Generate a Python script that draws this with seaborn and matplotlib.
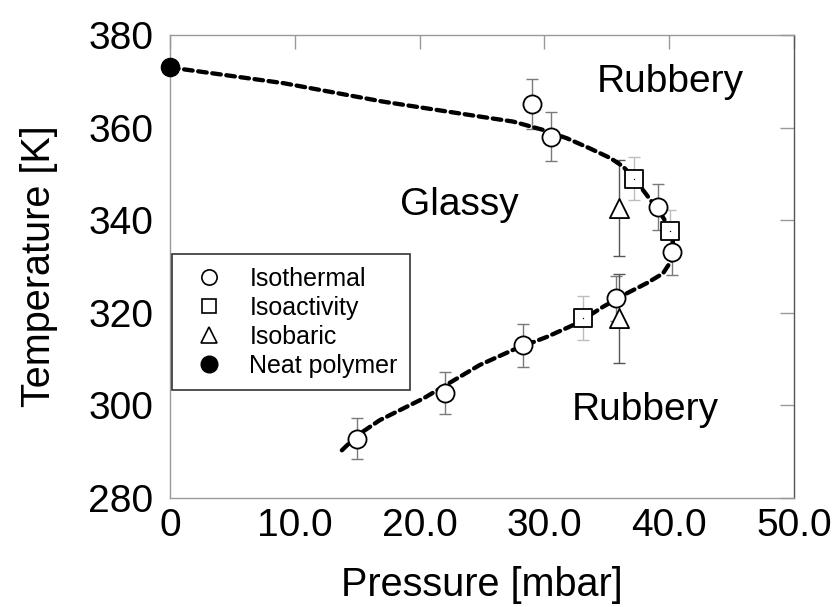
import matplotlib
matplotlib.use("Agg")
import matplotlib.pyplot as plt
from matplotlib.lines import Line2D
import seaborn as sns
import pandas as pd
import numpy as np

sns.set_theme(style="white")
plt.rcParams['font.family'] = ['Liberation Sans', 'DejaVu Sans']
plt.rcParams['text.color'] = 'black'

# Isothermal data
iso_p = [29.0, 30.5, 39.1, 40.2, 35.7, 28.3, 22.0, 15.0]
iso_t = [365.0, 358.0, 342.9, 333.1, 323.1, 313.0, 302.7, 292.8]
iso_err = [5.4, 5.3, 5.0, 5.0, 4.8, 4.6, 4.6, 4.4]
# Isoactivity data
act_p = [37.2, 40.1, 33.1]
act_t = [349.0, 337.7, 318.9]
act_err = [4.7, 4.4, 4.8]
# Isobaric data
bar_p = [36.0, 36.0]
bar_t = [342.6, 318.8]
bar_err = [10.3, 9.6]
# Neat polymer
neat_p = [0.0]
neat_t = [373.0]
# Glass-transition boundary
curve_p = [0, 9.1, 17.1, 24.8, 27.5, 29.9, 31.8, 33.65, 35.3, 36.3, 37.2, 38.1,
           39.3, 39.8, 40.3, 40.2, 39.5, 38.2, 36.6, 34.7, 32.6, 30.2, 27.5, 24.8,
           20.3, 16.8, 15.0, 13.5]
curve_t = [373, 369.6, 365.6, 362.4, 361.3, 359.5, 357.7, 355.5, 353.4, 351.6, 349.0,
           345.8, 341.5, 339.3, 335.7, 331.4, 328.5, 326.4, 324.2, 321.3, 317.7, 314.8,
           312.0, 308.7, 301.5, 296.8, 293.5, 289.6]

xticks = [0, 10, 20, 30, 40, 50]
xticklabels = ["0", "10.0", "20.0", "30.0", "40.0", "50.0"]
yticks = [280, 300, 320, 340, 360, 380]

fig = plt.figure(figsize=(8.38, 6.07), dpi=100)
ax = fig.add_axes([0.2029, 0.1796, 0.7446, 0.7627])

curve_df = pd.DataFrame({"p": curve_p, "t": curve_t, "o": range(len(curve_p))})
sns.lineplot(data=curve_df, x="p", y="t", sort=False, estimator=None, ax=ax,
             color="black", lw=3.1, dashes=False, zorder=2)
ln = ax.lines[-1]
ln.set_dashes([2.0, 1.3])
ln.set_dash_capstyle("round")

ax.errorbar(iso_p, iso_t, yerr=iso_err, fmt="none", ecolor="#7a7a7a", elinewidth=1.0,
            capsize=4, capthick=1.0, zorder=1)
ax.errorbar(act_p, act_t, yerr=act_err, fmt="none", ecolor="#bdbdbd", elinewidth=1.0,
            capsize=4, capthick=1.0, zorder=1)
ax.errorbar(bar_p, bar_t, yerr=bar_err, fmt="none", ecolor="#555555", elinewidth=1.0,
            capsize=4, capthick=1.0, zorder=1)

sns.scatterplot(x=iso_p, y=iso_t, marker="o", s=170, facecolor="white",
                edgecolor="black", linewidth=1.3, ax=ax, zorder=3)
sns.scatterplot(x=act_p, y=act_t, marker="s", s=170, facecolor="white",
                edgecolor="black", linewidth=1.3, ax=ax, zorder=3)
sns.scatterplot(x=act_p, y=act_t, marker=".", s=4, color="black", linewidth=0, ax=ax, zorder=4)
sns.scatterplot(x=bar_p, y=bar_t, marker="^", s=190, facecolor="white",
                edgecolor="black", linewidth=1.3, ax=ax, zorder=3)
sns.scatterplot(x=neat_p, y=neat_t, marker="o", s=170, color="black",
                edgecolor="black", ax=ax, zorder=4, clip_on=False)

ax.set_xlim(0, 50)
ax.set_ylim(280, 380)
ax.set_xticks(xticks)
ax.set_xticklabels(xticklabels)
ax.set_yticks(yticks)
ax.tick_params(axis="both", direction="in", length=10, width=1, color="#999999",
               top=True, right=True, labelsize=28, labelcolor="black")
ax.tick_params(axis="x", pad=7)
ax.tick_params(axis="y", pad=12)
for s in ax.spines.values():
    s.set_color("#999999")
    s.set_linewidth(1.0)
ax.spines["right"].set_color("#555555")

ax.set_xlabel("Pressure [mbar]", fontsize=28.5, labelpad=16, color="black")
ax.set_ylabel("Temperature [K]", fontsize=28.5, labelpad=22, color="black")

ax.text(40.1, 369.8, "Rubbery", fontsize=28, ha="center", va="center", color="black")
ax.text(23.2, 343.3, "Glassy", fontsize=28, ha="center", va="center", color="black")
ax.text(38.1, 299.0, "Rubbery", fontsize=28, ha="center", va="center", color="black")

handles = [
    Line2D([], [], ls="none", marker="o", ms=11, mfc="white", mec="black", mew=1.2),
    Line2D([], [], ls="none", marker="s", ms=10.5, mfc="white", mec="black", mew=1.2),
    Line2D([], [], ls="none", marker="^", ms=11, mfc="white", mec="black", mew=1.2),
    Line2D([], [], ls="none", marker="o", ms=12, mfc="black", mec="black"),
]
labels = ["Isothermal", "Isoactivity", "Isobaric", "Neat polymer"]
leg = ax.legend(handles, labels, loc="upper left", bbox_to_anchor=(0.003, 0.527),
                borderaxespad=0, fontsize=18, frameon=True, fancybox=False,
                edgecolor="black", labelspacing=0.2, handletextpad=0.6,
                borderpad=0.5, handlelength=2.0)
leg.get_frame().set_linewidth(1.2)
for t in leg.get_texts():
    t.set_color("black")

fig.savefig("out.png", dpi=100, facecolor="white")
